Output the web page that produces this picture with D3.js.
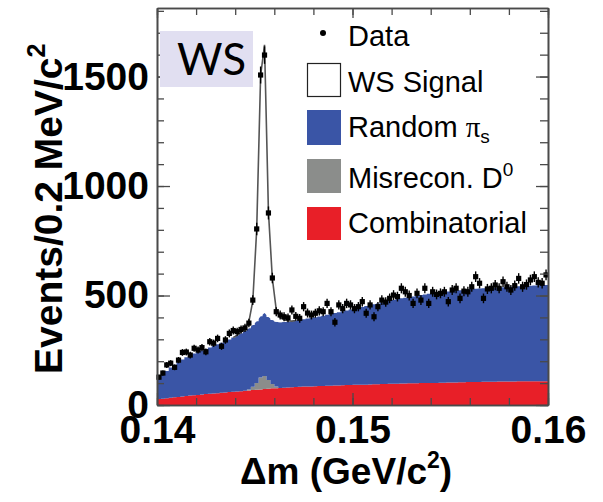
<!DOCTYPE html>
<html><head><meta charset="utf-8">
<script src="https://cdn.jsdelivr.net/npm/d3@7"></script>
<style>
html,body{margin:0;padding:0;background:#fff;}
svg{display:block;}
</style></head>
<body>
<svg id="c" width="603" height="502"></svg>
<script>
// ---- data (100 bins of 0.2 MeV from 0.14 to 0.16 GeV) ----
const binStart = 0.14;
const binWidth = 0.0002;
const dataCounts = [
127,146,183,191,172,205,240,242,228,259,
251,262,243,289,282,304,268,297,327,340,
335,345,352,374,479,804,1507,1598,877,580,
426,411,403,398,434,405,396,449,420,411,
419,430,426,464,426,378,457,440,464,457,
440,449,472,419,457,403,449,479,470,487,
502,495,533,517,500,464,510,479,533,464,
517,505,510,517,472,525,533,487,520,517,
540,586,556,487,530,533,548,533,563,540,
525,545,578,540,550,571,586,560,556,594];
const combinatorial = [
27,29,31,33,35,37,39,41,43,45,
46,48,50,51,53,54,56,57,59,60,
62,63,65,66,68,70,71,73,74,76,
77,78,79,80,81,82,83,84,84,85,
86,87,87,88,88,89,89,90,91,91,
92,92,93,93,94,95,95,96,96,97,
97,97,98,98,99,99,99,100,100,101,
101,101,102,102,103,103,103,104,104,105,
105,105,105,106,106,106,106,107,107,107,
107,107,108,108,108,108,108,109,109,109];
const misrecon = [
0,0,0,0,0,0,0,0,0,0,
0,0,0,0,0,0,0,0,0,0,
0,0,0,5,15,30,55,60,40,20,
8,0,0,0,0,0,0,0,0,0,
0,0,0,0,0,0,0,0,0,0,
0,0,0,0,0,0,0,0,0,0,
0,0,0,0,0,0,0,0,0,0,
0,0,0,0,0,0,0,0,0,0,
0,0,0,0,0,0,0,0,0,0,
0,0,0,0,0,0,0,0,0,0];
const randomPi = [
93,109,124,138,149,159,169,177,184,190,
196,201,206,212,217,223,228,234,240,248,
256,265,274,279,282,282,279,287,288,292,
295,300,300,301,302,304,306,308,311,313,
315,317,321,324,328,331,335,338,341,345,
348,352,355,359,362,365,369,372,376,379,
383,387,389,392,394,397,400,402,405,407,
409,411,412,414,415,417,419,420,422,423,
425,426,427,427,428,429,430,430,431,432,
433,434,434,435,436,437,438,438,439,439];
const wsSignal = [
0,0,0,0,0,0,0,0,0,0,
0,0,0,0,0,0,0,0,0,0,
0,5,12,30,110,420,1100,1225,480,190,
55,22,10,4,0,0,0,0,0,0,
0,0,0,0,0,0,0,0,0,0,
0,0,0,0,0,0,0,0,0,0,
0,0,0,0,0,0,0,0,0,0,
0,0,0,0,0,0,0,0,0,0,
0,0,0,0,0,0,0,0,0,0,
0,0,0,0,0,0,0,0,0,0];
const xMajorTicks = [0.14, 0.15, 0.16];
const yMajorTicks = [0, 500, 1000, 1500];
const legendItems = ["Data", "WS Signal", "Random", "Misrecon. D", "Combinatorial"];

// ---- layout ----
const svg = d3.select("#c");
const L = 157, R = 548, T = 8, B = 405;
const x = d3.scaleLinear([0.14, 0.16], [L, R]);
const y = d3.scaleLinear([0, 1813], [B, T]);

const colors = {combinatorial:"#e81f28", misrecon:"#8b8d8b", randomPi:"#3a55a6"};

// table
const rows = dataCounts.map((d,i)=>({
  lo: binStart + i*binWidth,
  c: binStart + (i+0.5)*binWidth,
  data: d,
  combinatorial: combinatorial[i],
  misrecon: misrecon[i],
  randomPi: randomPi[i],
  signal: wsSignal[i]
}));
const stepRows = rows.concat([Object.assign({}, rows[rows.length-1], {lo: 0.16})]);

const stack = d3.stack().keys(["combinatorial","misrecon","randomPi"]);
const series = stack(stepRows);

const area = d3.area()
  .x(d=>x(d.data.lo)).y0(d=>y(d[0])).y1(d=>y(d[1]))
  .curve(d3.curveStepAfter);

const g = svg.append("g");
series.forEach(s=>{
  g.append("path").attr("d", area(s)).attr("fill", colors[s.key]).attr("stroke","none");
});

// signal on top of background
const sigRows = rows.filter((r,i)=> i>=19 && i<=35);
const bkg = r => r.combinatorial + r.misrecon + r.randomPi;
const sigArea = d3.area().x(d=>x(d.c)).y0(d=>y(bkg(d))).y1(d=>y(bkg(d)+d.signal));
g.append("path").attr("d", sigArea(sigRows)).attr("fill","#fff");
const sigLine = d3.line().x(d=>x(d.c)).y(d=>y(bkg(d)+d.signal));
g.append("path").attr("d", sigLine(sigRows)).attr("fill","none")
  .attr("stroke","#555").attr("stroke-width",1.6);

// data points with error bars
const dg = svg.append("g");
rows.forEach(r=>{
  const e = Math.sqrt(r.data);
  dg.append("line").attr("x1",x(r.c)).attr("x2",x(r.c))
    .attr("y1",y(r.data-e)).attr("y2",y(r.data+e))
    .attr("stroke","#000").attr("stroke-width",1.4);
  dg.append("line").attr("x1",x(r.lo)).attr("x2",x(r.lo+binWidth))
    .attr("y1",y(r.data)).attr("y2",y(r.data))
    .attr("stroke","#000").attr("stroke-width",1.2);
  dg.append("rect").attr("x",x(r.c)-2.6).attr("y",y(r.data)-2.6)
    .attr("width",5.2).attr("height",5.2).attr("fill","#000");
});

// ---- axes ----
const axColor = "#4a4a4a";
function styleAxis(sel){
  sel.selectAll("path.domain").attr("stroke",axColor).attr("stroke-width",1.6);
  sel.selectAll(".tick line").attr("stroke",axColor).attr("stroke-width",1.3);
}
const fontTick = "'Liberation Sans', Arial, sans-serif";
const yMinor = d3.range(0, 1801, 100);
const xMinor = d3.range(0, 11).map(k=>0.14 + k*0.002);

// left
const ay1 = svg.append("g").attr("transform",`translate(${L},0)`)
  .call(d3.axisLeft(y).tickValues(yMinor).tickSizeInner(-7).tickSizeOuter(0).tickFormat(""));
styleAxis(ay1);
const ay2 = svg.append("g").attr("transform",`translate(${L},0)`)
  .call(d3.axisLeft(y).tickValues(yMajorTicks).tickSizeInner(-13).tickSizeOuter(0).tickPadding(8).tickFormat(d3.format("d")));
styleAxis(ay2);
ay2.selectAll("text").attr("font-family",fontTick).attr("font-weight","bold")
  .attr("font-size",39).attr("fill","#000");
// right
const ay3 = svg.append("g").attr("transform",`translate(${R},0)`)
  .call(d3.axisRight(y).tickValues(yMinor).tickSizeInner(-8).tickSizeOuter(0).tickFormat(""));
styleAxis(ay3);
const ay4 = svg.append("g").attr("transform",`translate(${R},0)`)
  .call(d3.axisRight(y).tickValues(yMajorTicks).tickSizeInner(-12).tickSizeOuter(0).tickFormat(""));
styleAxis(ay4);
// bottom
const ax1 = svg.append("g").attr("transform",`translate(0,${B})`)
  .call(d3.axisBottom(x).tickValues(xMinor).tickSizeInner(-7).tickSizeOuter(0).tickFormat(""));
styleAxis(ax1);
const ax2 = svg.append("g").attr("transform",`translate(0,${B})`)
  .call(d3.axisBottom(x).tickValues(xMajorTicks).tickSizeInner(-12).tickSizeOuter(0).tickPadding(10).tickFormat(d3.format(".2f")));
styleAxis(ax2);
ax2.selectAll("text").attr("font-family",fontTick).attr("font-weight","bold")
  .attr("font-size",39).attr("fill","#000");
// top
const ax3 = svg.append("g").attr("transform",`translate(0,${T})`)
  .call(d3.axisTop(x).tickValues(xMinor).tickSizeInner(-7).tickSizeOuter(0).tickFormat(""));
styleAxis(ax3);
const ax4 = svg.append("g").attr("transform",`translate(0,${T})`)
  .call(d3.axisTop(x).tickValues(xMajorTicks).tickSizeInner(-10).tickSizeOuter(0).tickFormat(""));
styleAxis(ax4);

// axis titles
const yt = svg.append("text").attr("transform","translate(62,374) rotate(-90)")
  .attr("font-family",fontTick).attr("font-weight","bold").attr("font-size",39).attr("fill","#000");
yt.append("tspan").text("Events/0.2 MeV/c");
yt.append("tspan").attr("font-size",25).attr("dy",-17).text("2");

const xt = svg.append("text").attr("x",240).attr("y",484)
  .attr("font-family",fontTick).attr("font-weight","bold").attr("font-size",37).attr("fill","#000");
xt.append("tspan").text("\u0394m (GeV/c");
xt.append("tspan").attr("font-size",23).attr("dy",-16).text("2");
xt.append("tspan").attr("dy",16).text(")");

// WS label
svg.append("rect").attr("x",160).attr("y",31).attr("width",93).attr("height",56).attr("fill","#e1dff1");
svg.append("text").attr("x",177).attr("y",75).attr("font-family","Lato, 'Open Sans', sans-serif")
  .attr("font-size",44).attr("fill","#000").text("WS");

// legend
const lg = svg.append("g").attr("font-family",fontTick).attr("font-size",29).attr("fill","#000");
lg.append("circle").attr("cx",323).attr("cy",33).attr("r",3).attr("fill","#000");
lg.append("text").attr("x",348).attr("y",46).text(legendItems[0]);
lg.append("rect").attr("x",307.5).attr("y",63.5).attr("width",33).attr("height",33)
  .attr("fill","#fff").attr("stroke","#222").attr("stroke-width",1.2);
lg.append("text").attr("x",348).attr("y",92).text(legendItems[1]);
lg.append("rect").attr("x",307).attr("y",110).attr("width",34).attr("height",35).attr("fill",colors.randomPi);
const t3 = lg.append("text").attr("x",348).attr("y",137);
t3.append("tspan").text(legendItems[2] + " ");
t3.append("tspan").attr("font-family","'Liberation Serif', serif").text("\u03C0");
t3.append("tspan").attr("font-size",19).attr("dy",6).text("s");
lg.append("rect").attr("x",307).attr("y",159).attr("width",34).attr("height",34).attr("fill",colors.misrecon);
const t4 = lg.append("text").attr("x",348).attr("y",188);
t4.append("tspan").text(legendItems[3]);
t4.append("tspan").attr("font-size",19).attr("dy",-12).text("0");
lg.append("rect").attr("x",307).attr("y",207).attr("width",34).attr("height",33).attr("fill",colors.combinatorial);
lg.append("text").attr("x",348).attr("y",233).text(legendItems[4]);
</script>
</body></html>
